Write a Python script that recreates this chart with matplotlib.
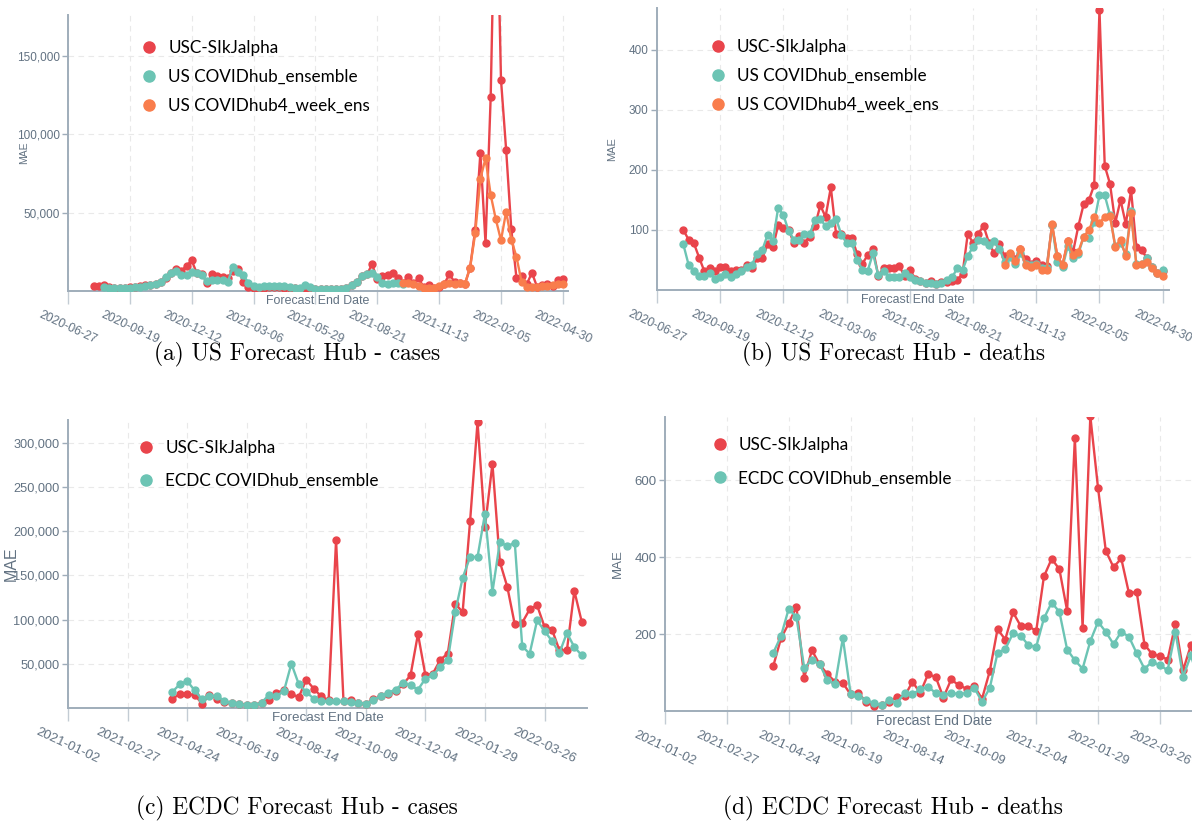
import pandas as pd
import matplotlib
matplotlib.use("Agg")
import matplotlib.pyplot as plt
from matplotlib.lines import Line2D
from matplotlib.ticker import FuncFormatter

W, H = 1192, 832

RED = "#E9444B"
TEAL = "#6CC4B4"
ORANGE = "#F97D4C"
AXIS = "#9FADBA"
TICK = "#627282"

# ---- US Forecast Hub (weekly, Saturdays) ----
us_ticks = pd.date_range("2020-06-27", "2022-04-30", freq="84D")

# cases, thousands
us_cases_usc_from = "2020-08-01"
us_cases_usc_k = [3.0, 3.2, 3.6, 2.5, 2.2, 2.0, 2.2, 2.5, 2.8, 3.0, 3.6, 3.8, 4.5, 5.5,
                  8.5, 11.5, 13.8, 13.0, 16.0, 19.5, 11.2, 10.6, 4.9, 10.6, 9.8, 8.9, 8.5,
                  12.7, 13.8, 5.7, 2.8, 1.7, 2.0, 2.2, 2.4, 2.6, 2.4, 2.2, 2.0, 1.6, 1.2,
                  1.3, 1.5, 1.2, 1.0, 1.0, 1.2, 1.0, 1.3, 2.0, 3.8, 5.7, 9.5, 10.6, 17.0,
                  7.4, 9.8, 10.0, 11.2, 8.5, 5.3, 8.9, 5.0, 8.0, 2.5, 3.8, 2.0, 2.5, 4.7,
                  10.6, 5.7, 5.0, 4.2, 14.9, 39.0, 88.0, 30.4, 123.6, 285.0, 134.7, 90.0,
                  39.4, 8.3, 9.8, 4.3, 11.7, 2.6, 3.6, 4.7, 3.2, 6.8, 7.4]
us_cases_ens_from = "2020-08-15"
us_cases_ens_k = [2.8, 2.1, 1.7, 1.7, 1.7, 1.9, 2.3, 2.8, 3.4, 3.8, 4.7, 5.5, 9.1, 11.7,
                  12.9, 10.4, 10.0, 12.3, 11.2, 10.0, 6.4, 6.8, 7.0, 6.8, 5.9, 15.3, 12.0,
                  10.0, 5.3, 3.2, 2.8, 3.0, 3.2, 3.4, 3.0, 3.2, 2.5, 2.2, 2.0, 3.6, 2.5,
                  1.5, 1.3, 1.2, 1.3, 1.0, 1.5, 2.1, 3.8, 5.7, 9.5, 10.6, 11.7, 8.9, 5.3,
                  4.7, 5.0, 5.3, 4.7]
us_cases_4wk_from = "2021-09-25"
us_cases_4wk_k = [5.0, 5.3, 4.2, 3.0, 2.1, 2.1, 2.1, 3.2, 4.7, 5.3, 4.7, 5.0, 4.7, 14.9,
                  36.8, 71.7, 84.5, 61.3, 45.7, 32.3, 50.6, 32.6, 21.9, 5.7, 2.8, 2.6,
                  2.6, 3.0, 3.2, 3.8, 4.7, 4.3]

# deaths
us_deaths_usc_from = "2020-08-01"
us_deaths_usc = [100, 84, 78, 54, 31, 37, 31, 39, 38, 31, 33, 34, 41, 36, 54, 54, 76, 71,
                 108, 104, 100, 78, 90, 79, 89, 107, 141, 122, 171, 93, 94, 87, 87, 60,
                 44, 58, 68, 24, 36, 37, 37, 40, 23, 34, 19, 15, 11, 15, 10, 14, 13, 15,
                 17, 27, 94, 78, 94, 107, 79, 61, 77, 56, 60, 51, 69, 51, 44, 48, 42, 40,
                 108, 56, 42, 82, 64, 107, 143, 150, 175, 467, 207, 177, 112, 150, 110,
                 166, 72, 67, 53, 39, 29, 32]
us_deaths_ens_from = "2020-08-01"
us_deaths_ens = [76, 42, 31, 23, 23, 28, 19, 22, 27, 22, 27, 31, 39, 42, 60, 67, 92, 81,
                 137, 125, 98, 84, 83, 94, 94, 116, 119, 106, 111, 119, 92, 79, 78, 50,
                 34, 32, 61, 25, 31, 22, 21, 21, 28, 21, 16, 15, 12, 11, 10, 12, 16, 21,
                 36, 33, 57, 72, 83, 81, 75, 81, 69, 47, 55, 44, 61, 44, 42, 44, 36, 36,
                 108, 47, 39, 73, 53, 60, 89, 87, 114, 158, 158, 125, 73, 78, 60, 131,
                 43, 44, 53, 39, 29, 33]
us_deaths_4wk_from = "2021-10-02"
us_deaths_4wk = [42, 62, 48, 69, 42, 39, 42, 33, 33, 110, 56, 42, 82, 58, 64, 89, 100,
                 121, 112, 122, 123, 72, 84, 56, 128, 42, 43, 46, 37, 28, 23]

# ---- ECDC Forecast Hub ----
eu_ticks = pd.date_range("2021-01-02", "2022-03-26", freq="56D")

eu_cases_from = "2021-04-10"
eu_cases_usc_k = [10.6, 15.5, 15.5, 15.0, 4.9, 15.0, 10.6, 6.8, 5.7, 4.2, 3.4, 3.8, 5.7,
                  9.4, 17.4, 20.0, 15.5, 12.5, 32.0, 21.9, 13.2, 8.7, 190.0, 7.5, 8.7,
                  5.7, 4.9, 9.8, 13.2, 16.2, 18.9, 26.8, 37.0, 83.8, 37.0, 38.9, 54.7,
                  61.5, 118.0, 108.7, 211.7, 323.8, 204.9, 276.6, 165.3, 137.0, 94.7,
                  96.6, 111.7, 116.2, 91.7, 88.7, 65.3, 65.3, 132.5, 97.4]
eu_cases_ens_k = [18.1, 26.8, 30.6, 20.0, 9.8, 13.6, 13.6, 7.9, 5.7, 4.2, 3.0, 3.0, 6.0,
                  15.0, 13.6, 19.2, 50.2, 26.8, 18.1, 10.6, 7.5, 7.5, 7.5, 7.5, 6.8, 6.0,
                  4.9, 8.7, 13.6, 17.4, 20.8, 28.3, 25.7, 20.8, 33.2, 37.0, 46.4, 54.0,
                  108.7, 147.2, 171.0, 171.0, 220.0, 131.3, 188.0, 183.0, 187.2, 69.8,
                  61.5, 99.2, 87.2, 75.8, 62.3, 84.9, 69.0, 59.6]

eu_deaths_from = "2021-04-10"
eu_deaths_usc = [117, 189, 228, 271, 87, 158, 121, 96, 76, 73, 43, 47, 24, 12, 15, 24,
                 37, 39, 76, 47, 95, 89, 35, 82, 67, 58, 64, 32, 104, 213, 186, 257, 221,
                 221, 208, 350, 396, 369, 261, 710, 217, 767, 580, 417, 374, 397, 306,
                 310, 173, 148, 143, 134, 226, 106, 171, 76]
eu_deaths_ens = [151, 195, 266, 244, 113, 132, 122, 80, 70, 190, 45, 38, 28, 21, 15, 28,
                 21, 47, 43, 57, 63, 47, 41, 47, 44, 47, 60, 24, 60, 151, 161, 202, 196,
                 171, 167, 241, 282, 258, 160, 132, 110, 182, 232, 206, 174, 206, 193,
                 150, 110, 128, 119, 106, 206, 89, 145, 80]


def weekly(start, n):
    return pd.date_range(start, periods=n, freq="7D")


def px_axes(fig, left, top, right, bottom):
    return fig.add_axes([left / W, 1 - bottom / H, (right - left) / W, (bottom - top) / H])


def draw(ax, series, ticks, xmax_weeks, ylim, yticks, ytick_fs, xtick_fs,
         mae_fs, mae_x, legend_anchor, legend_gap):
    for dates, vals, color, label in series:
        ax.plot(dates, vals, color=color, lw=1.7, marker="o", ms=5, label=label, zorder=3)

    ax.set_xlim(ticks[0], ticks[0] + pd.Timedelta(weeks=xmax_weeks))
    ax.set_ylim(*ylim)
    ax.set_xticks(ticks)
    ax.set_xticklabels([t.strftime("%Y-%m-%d") for t in ticks], rotation=-25,
                       ha="center", va="top", fontsize=xtick_fs)
    ax.set_yticks(yticks)
    ax.yaxis.set_major_formatter(FuncFormatter(lambda v, p: f"{v:,.0f}"))
    for lab in ax.get_yticklabels():
        lab.set_fontsize(ytick_fs)

    for s in ("top", "right"):
        ax.spines[s].set_visible(False)
    for s in ("left", "bottom"):
        ax.spines[s].set_color(AXIS)
        ax.spines[s].set_linewidth(1.4)
    ax.tick_params(axis="x", length=9, width=1, color="#c3ccd4", colors=TICK, pad=4)
    ax.tick_params(axis="y", length=4, width=1, color=AXIS, colors=TICK, pad=2)
    ax.grid(True, color="#e9e9e9", ls=(0, (5, 4)), lw=0.8, zorder=0)
    ax.set_axisbelow(True)

    ax.text(mae_x, 0.5, "MAE", transform=ax.transAxes, rotation=90, ha="center",
            va="center", fontsize=mae_fs, color=TICK)
    ax.text(0.5, -0.035, "Forecast End Date", transform=ax.transAxes, ha="center",
            va="center", fontsize=ytick_fs * 1.05, color=TICK)

    handles = [Line2D([], [], ls="", marker="o", ms=8, color=c) for _, _, c, _ in series]
    ax.legend(handles, [lab for _, _, _, lab in series], loc="upper left",
              bbox_to_anchor=legend_anchor, frameon=False, handletextpad=0.6,
              labelspacing=legend_gap, handlelength=1.0,
              prop={"family": "Lato", "size": 12.3})


plt.rcParams["font.family"] = ["Liberation Sans", "DejaVu Sans"]
fig = plt.figure(figsize=(W / 100, H / 100), dpi=100)

ax_a = px_axes(fig, 68, 15, 568, 291)
draw(ax_a, [
    (weekly(us_cases_usc_from, len(us_cases_usc_k)), [v * 1000 for v in us_cases_usc_k], RED, "USC-SIkJalpha"),
    (weekly(us_cases_ens_from, len(us_cases_ens_k)), [v * 1000 for v in us_cases_ens_k], TEAL, "US COVIDhub_ensemble"),
    (weekly(us_cases_4wk_from, len(us_cases_4wk_k)), [v * 1000 for v in us_cases_4wk_k], ORANGE, "US COVIDhub4_week_ens"),
], us_ticks, 97, (0, 176000), [50000, 100000, 150000], 8.5, 8.8, 7.5, -0.088,
    (0.115, 0.965), 0.75)

ax_b = px_axes(fig, 657, 8, 1169, 290)
draw(ax_b, [
    (weekly(us_deaths_usc_from, len(us_deaths_usc)), us_deaths_usc, RED, "USC-SIkJalpha"),
    (weekly(us_deaths_ens_from, len(us_deaths_ens)), us_deaths_ens, TEAL, "US COVIDhub_ensemble"),
    (weekly(us_deaths_4wk_from, len(us_deaths_4wk)), us_deaths_4wk, ORANGE, "US COVIDhub4_week_ens"),
], us_ticks, 97.2, (0, 470), [100, 200, 300, 400], 8.5, 8.8, 8, -0.088,
    (0.072, 0.945), 0.75)

ax_c = px_axes(fig, 68, 420, 587, 708)
draw(ax_c, [
    (weekly(eu_cases_from, len(eu_cases_usc_k)), [v * 1000 for v in eu_cases_usc_k], RED, "USC-SIkJalpha"),
    (weekly(eu_cases_from, len(eu_cases_ens_k)), [v * 1000 for v in eu_cases_ens_k], TEAL, "ECDC COVIDhub_ensemble"),
], eu_ticks, 69.7, (0, 326000), [50000, 100000, 150000, 200000, 250000, 300000],
    9.2, 9.5, 11.5, -0.11, (0.105, 0.984), 1.0)

ax_d = px_axes(fig, 665, 417, 1204, 711)
draw(ax_d, [
    (weekly(eu_deaths_from, len(eu_deaths_usc)), eu_deaths_usc, RED, "USC-SIkJalpha"),
    (weekly(eu_deaths_from, len(eu_deaths_ens)), eu_deaths_ens, TEAL, "ECDC COVIDhub_ensemble"),
], eu_ticks, 69.7, (0, 765), [200, 400, 600], 9.5, 9.3, 9.5, -0.087,
    (0.057, 0.983), 1.0)

cap = dict(ha="center", va="center", fontsize=16.8, family=["cmr10", "DejaVu Serif"])
fig.text(297 / W, 1 - 354 / H, "(a) US Forecast Hub - cases", **cap)
fig.text(893 / W, 1 - 354 / H, "(b) US Forecast Hub - deaths", **cap)
fig.text(297 / W, 1 - 808 / H, "(c) ECDC Forecast Hub - cases", **cap)
fig.text(893 / W, 1 - 808 / H, "(d) ECDC Forecast Hub - deaths", **cap)

fig.savefig("out.png", dpi=100)
